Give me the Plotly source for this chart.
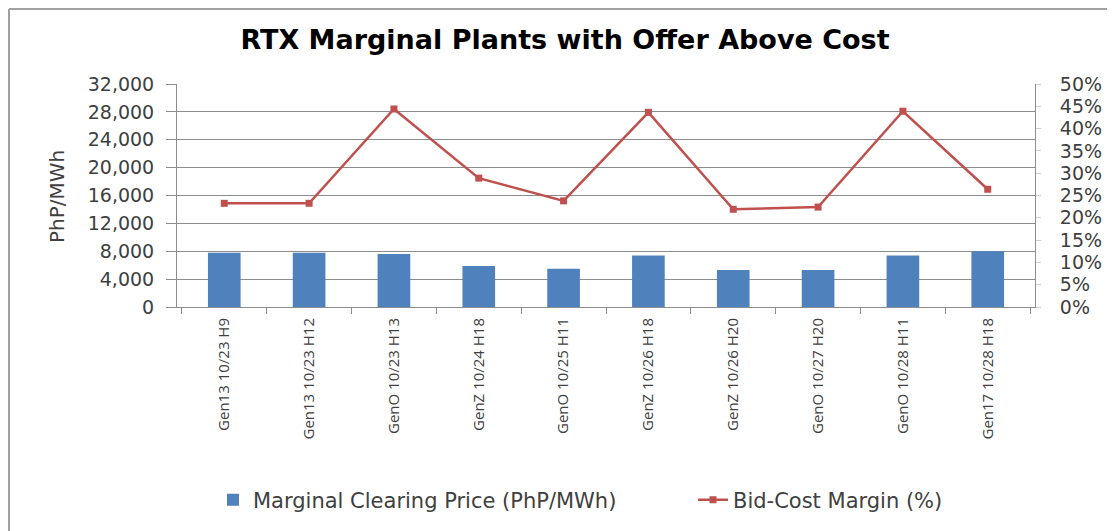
import plotly.graph_objects as go

categories = ["Gen13 10/23 H9", "Gen13 10/23 H12", "GenO 10/23 H13", "GenZ 10/24 H18",
              "GenO 10/25 H11", "GenZ 10/26 H18", "GenZ 10/26 H20", "GenO 10/27 H20",
              "GenO 10/28 H11", "Gen17 10/28 H18"]
clearing_price = [7800, 7800, 7600, 5900, 5500, 7400, 5300, 5300, 7400, 8000]
bid_cost_margin = [0.2325, 0.2325, 0.444, 0.289, 0.238, 0.4365, 0.219, 0.224, 0.439, 0.264]

# the page adds an 8px body margin, so the figure is laid out 8px up/left of screen coords
OFF = 8
W, H = 1115 - OFF, 531 - OFF
L, R, T, B = 177 - OFF, 1035 - OFF, 84 - OFF, 307 - OFF
pw, ph = R - L, B - T


def px_x(x):
    return (x - OFF - L) / pw


def px_y(y):
    return (B - (y - OFF)) / ph


grid = "#8c8c8c"
txt = "#404040"

fig = go.Figure()
fig.add_trace(go.Bar(x=categories, y=clearing_price, name="Marginal Clearing Price (PhP/MWh)",
                     marker=dict(color="#4F81BD", line=dict(width=0)), yaxis="y",
                     legend="legend"))
fig.add_trace(go.Scatter(x=categories, y=bid_cost_margin, name="Bid-Cost Margin (%)",
                         mode="lines+markers", yaxis="y2", legend="legend2",
                         line=dict(color="#C0504D", width=2.5),
                         marker=dict(symbol="square", size=7, color="#C0504D")))

legend_font = dict(family="DejaVu Sans", size=21, color=txt)

fig.update_layout(
    width=W, height=H,
    margin=dict(l=L, r=W - R, t=T, b=H - B, autoexpand=False),
    paper_bgcolor="white", plot_bgcolor="white",
    font=dict(family="DejaVu Sans", color=txt, size=16),
    bargap=0.615,
    title=dict(text="<b>RTX Marginal Plants with Offer Above Cost</b>",
               x=(565 - OFF) / W, xanchor="center", y=1 - (40 - OFF) / H, yanchor="middle",
               xref="container", yref="container",
               font=dict(family="DejaVu Sans", size=27, color="black")),
    xaxis=dict(type="category", tickangle=-90, tickson="boundaries",
               ticks="outside", ticklen=6, tickcolor=grid,
               showline=True, linecolor=grid, linewidth=1,
               showgrid=False, ticklabelstandoff=4,
               tickfont=dict(family="Open Sans", size=15, color=txt),
               automargin=False),
    yaxis=dict(range=[0, 32000], dtick=4000, tickformat=",d",
               showgrid=True, gridcolor=grid, gridwidth=1,
               showline=True, linecolor=grid, linewidth=1,
               ticks="outside", ticklen=10, tickcolor=grid,
               ticklabelstandoff=8, zeroline=False,
               tickfont=dict(family="DejaVu Sans", size=19, color=txt),
               automargin=False),
    yaxis2=dict(range=[0, 0.5], dtick=0.05, tickformat=".0%", overlaying="y", side="right",
                showgrid=False, showline=True, linecolor=grid, linewidth=1,
                ticks="outside", ticklen=5, tickcolor="#d0d0d0", zeroline=False,
                ticklabelstandoff=15,
                tickfont=dict(family="DejaVu Sans", size=19, color=txt),
                automargin=False),
    legend=dict(orientation="h", x=px_x(213), xanchor="left", y=px_y(500), yanchor="middle",
                font=legend_font, bgcolor="rgba(0,0,0,0)"),
    legend2=dict(orientation="h", x=px_x(693), xanchor="left", y=px_y(500), yanchor="middle",
                 font=legend_font, bgcolor="rgba(0,0,0,0)"),
    showlegend=True,
)

fig.add_annotation(text="PhP/MWh", xref="paper", yref="paper", x=px_x(57), y=px_y(196),
                   textangle=-90, showarrow=False, xanchor="center", yanchor="middle",
                   font=dict(family="DejaVu Sans", size=20, color=txt))

# chart-area border (left and top edges visible in the reference)
fig.add_shape(type="line", xref="paper", yref="paper", x0=px_x(9), x1=px_x(9),
              y0=px_y(9), y1=px_y(560), line=dict(color="#a0a0a0", width=2))
fig.add_shape(type="line", xref="paper", yref="paper", x0=px_x(9), x1=px_x(1200),
              y0=px_y(9), y1=px_y(9), line=dict(color="#a0a0a0", width=2))

fig.write_html("out.html")
